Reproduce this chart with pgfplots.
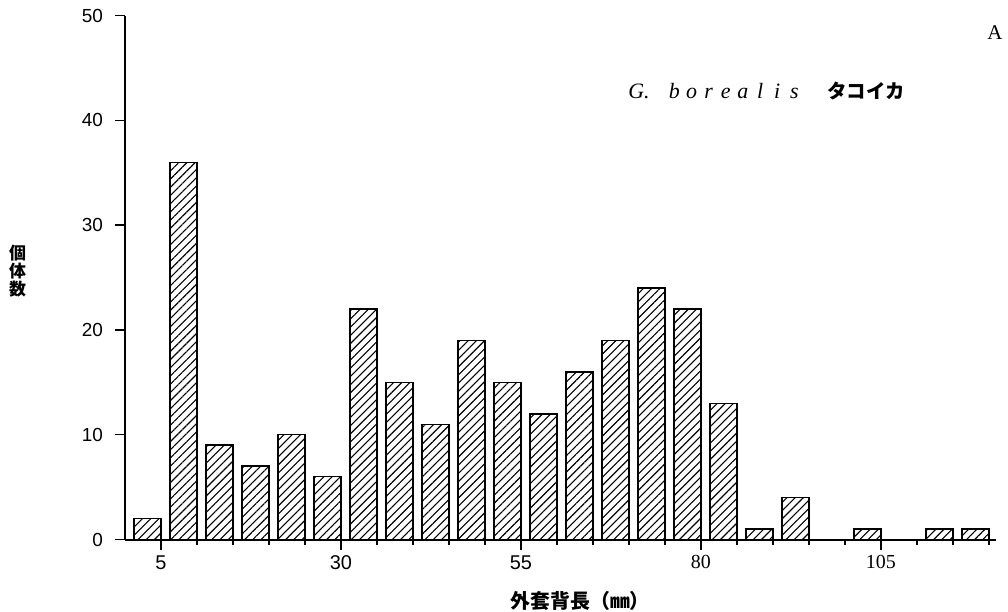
\documentclass[border=0pt]{standalone}
\usepackage{fontspec}
\setmainfont{Liberation Serif}
\newfontfamily\sansf{Liberation Sans}
\newfontfamily\cjk{Noto Sans CJK JP}
\usepackage{pgfplots}
\pgfplotsset{compat=1.18}
\usetikzlibrary{patterns.meta}
\newcommand\cell[1]{\makebox[8.57bp][c]{#1}}
\begin{document}
\begin{tikzpicture}
\useasboundingbox (-62.5bp,-36.25bp) rectangle (441.5bp,269.75bp);
\begin{axis}[
  at={(0,0)}, anchor=south west,
  scale only axis,
  width=435.5bp, height=261.9bp,
  xmin=0, xmax=121, ymin=0, ymax=50,
  axis lines*=left,
  axis line style={line width=1bp, black},
  tick align=outside,
  xtick={5,30,55,80,105},
  xticklabels={{\sansf 5},{\sansf 30},{\sansf 55},80,105},
  minor xtick={10,15,20,25,35,40,45,50,60,65,70,75,85,90,95,100,110,115,120},
  ytick={0,10,20,30,40,50},
  major tick length=5bp, minor tick length=2.5bp,
  every tick/.style={black, line width=0.75bp},
  xticklabel style={font=\fontsize{10}{11}\selectfont, yshift=0.5bp},
  yticklabel style={font=\sansf\fontsize{9.5}{11}\selectfont, xshift=-2.5bp},
  /pgf/number format/assume math mode=true,
  clip=false,
]
\addplot[ybar, bar width=3.75, draw=black, line width=0.75bp,
  pattern={Lines[angle=45,distance=2.9bp,line width=0.55bp]}]
coordinates {
(3.125,2) (8.125,36) (13.125,9) (18.125,7) (23.125,10) (28.125,6)
(33.125,22) (38.125,15) (43.125,11) (48.125,19) (53.125,15) (58.125,12)
(63.125,16) (68.125,19) (73.125,24) (78.125,22) (83.125,13) (88.125,1)
(93.125,4) (103.125,1) (113.125,1) (118.125,1)
};
\end{axis}
\node[anchor=base, inner sep=0, font=\fontsize{10.5}{12}\selectfont] at (435bp,250.1bp) {A};
\node[anchor=base west, inner sep=0, font=\itshape\fontsize{11}{12}\selectfont] at (251.5bp,220.25bp) {G.};
\node[anchor=base west, inner sep=0, font=\itshape\fontsize{11}{12}\selectfont] at (270.2bp,220.25bp) {\cell{b}\cell{o}\cell{r}\cell{e}\cell{a}\cell{l}\cell{i}\cell{s}};
\node[anchor=west, inner sep=0, font=\cjk\bfseries\fontsize{9.75}{11}\selectfont] at (351bp,224.35bp) {タコイカ};
\node[anchor=west, inner sep=0, font=\cjk\bfseries\fontsize{10}{12}\selectfont] at (192.5bp,-30.75bp) {外套背長（㎜）};
\node[align=center, inner sep=0, font=\cjk\bfseries\fontsize{8.5}{8bp}\selectfont] at (-53.75bp,134bp) {個\\体\\数};
\end{tikzpicture}
\end{document}
